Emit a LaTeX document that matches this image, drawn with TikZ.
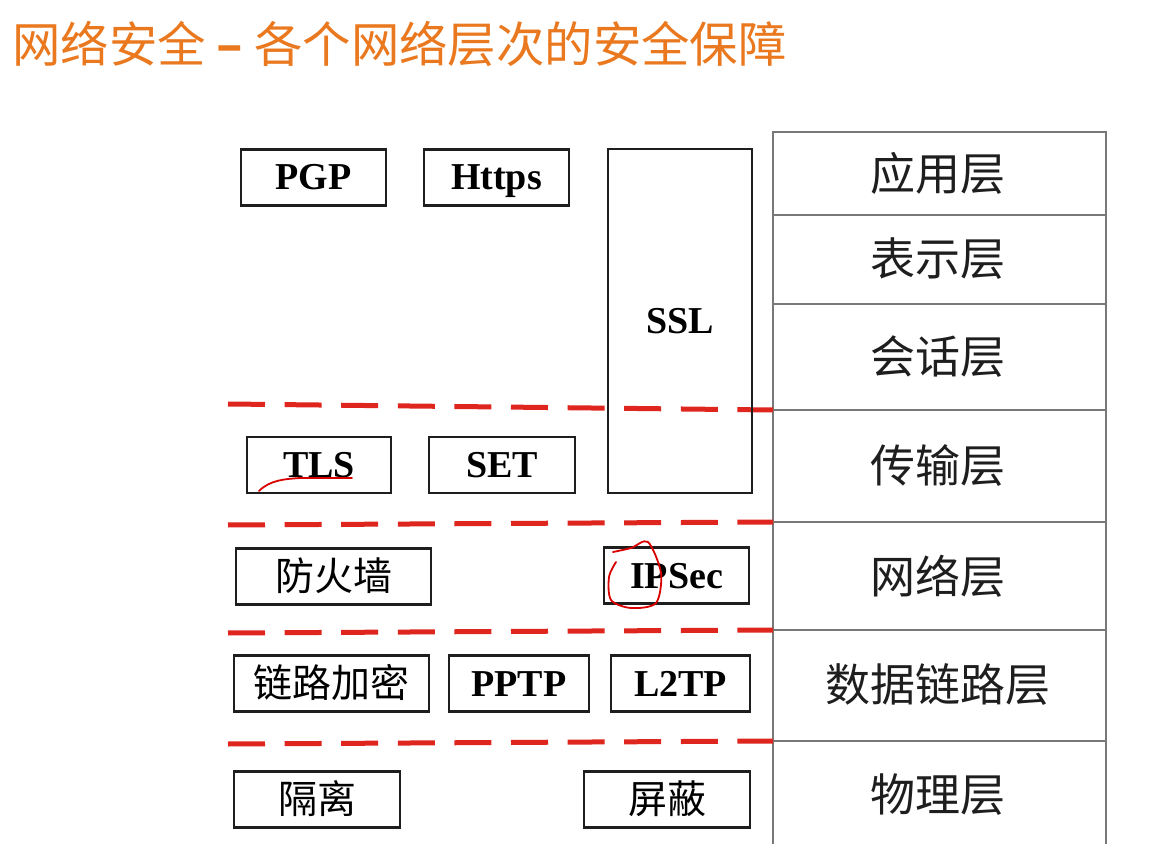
\documentclass[tikz,border=0pt]{standalone}
\usepackage{fontspec}
\setmainfont{Liberation Serif}
\newfontfamily\cjk{Noto Sans CJK SC}
\usepackage{tikz}
\usetikzlibrary{positioning}
\definecolor{titleOrange}{RGB}{234,120,30}
\definecolor{dashRed}{RGB}{222,38,30}
\definecolor{ink}{RGB}{30,30,30}
\definecolor{ruleGray}{RGB}{120,120,120}
\begin{document}
\begin{tikzpicture}[x=0.5pt,y=-0.5pt,
  sec/.style={draw=ink,line width=1.3pt,inner sep=0pt,minimum height=28pt,
              text height=16.5pt,text depth=4pt,
              font=\fontsize{19}{19}\selectfont\bfseries},
  seczh/.style={sec,text height=16.5pt,text depth=3pt,font=\fontsize{19.5}{19.5}\selectfont\cjk},
  layer/.style={font=\fontsize{22.5}{22.5}\selectfont\cjk,text=ink},
  divide/.style={dashRed,line width=2.5pt,dash pattern=on 18.5pt off 9.8pt},
  scribble/.style={red!85!black,line width=0.9pt,line cap=round,line join=round}]
  \useasboundingbox (0,0) rectangle (1167,844);
  \fill[white] (0,0) rectangle (1167,844);
  \node[anchor=west,inner sep=0pt,text=titleOrange,
        font=\fontsize{24.2}{24.2}\selectfont\cjk] (title) at (12,44)
        {网络安全 \textbf{–} 各个网络层次的安全保障};
  % OSI layers
  \draw[ruleGray,line width=0.9pt] (773,844) -- (773,132) -- (1106,132) -- (1106,844);
  \foreach \y in {215,304,410,522,630,741}
    \draw[ruleGray,line width=0.9pt] (773,\y) -- (1106,\y);
  \foreach \t/\y/\n in {应用层/173/app,表示层/259/pres,会话层/357/sess,传输层/466/trans,
                        网络层/576/net,数据链路层/685/link,物理层/795/phy}
    \node[layer] (\n) at (938,\y) {\t};
  % layer borders
  \foreach \i/\yl/\yr in {1/404/410,2/525/522,3/633/630,4/744/741}{
    \coordinate (d\i) at (228,\yl);
    \coordinate (t\i) at (773,\yr);
    \draw[divide] (d\i) -- (t\i);
  }
  % mechanisms
  \node[sec,minimum width=72.5pt] (pgp) at (313.5,177.5) {PGP};
  \node[sec,minimum width=72.5pt] (https) at (496.5,177.5) {Https};
  \node[sec,minimum width=72pt,minimum height=172pt] (ssl) at (680,321) {SSL};
  \node[sec,minimum width=72pt] (tls) at (319,465) {TLS};
  \node[sec,minimum width=73pt] (set) at (502,465) {SET};
  \node[seczh,minimum width=97.5pt] (fw) at (333.5,576.5) {防火墙};
  \node[sec,minimum width=72.5pt] (ipsec) at (676.5,575.5) {IPSec};
  \node[seczh,minimum width=97.5pt] (enc) at (331.5,683.5) {链路加密};
  \node[sec,minimum width=70pt] (pptp) at (519,683.5) {PPTP};
  \node[sec,minimum width=69.5pt] (l2tp) at (680.5,683.5) {L2TP};
  \node[seczh,minimum width=83pt] (iso) at (317,799.5) {隔离};
  \node[seczh,minimum width=83pt] (shield) at (667,799.5) {屏蔽};
  % hand marks
  \draw[scribble] (259,491) .. controls (270,480) and (285,479) .. (300,478) -- (352,478);
  \draw[scribble] plot[smooth] coordinates {(613,552) (631,548) (648,542) (661,573)
        (656,603) (631,608) (611,600) (609,577) (616,562)};
\end{tikzpicture}
\end{document}
